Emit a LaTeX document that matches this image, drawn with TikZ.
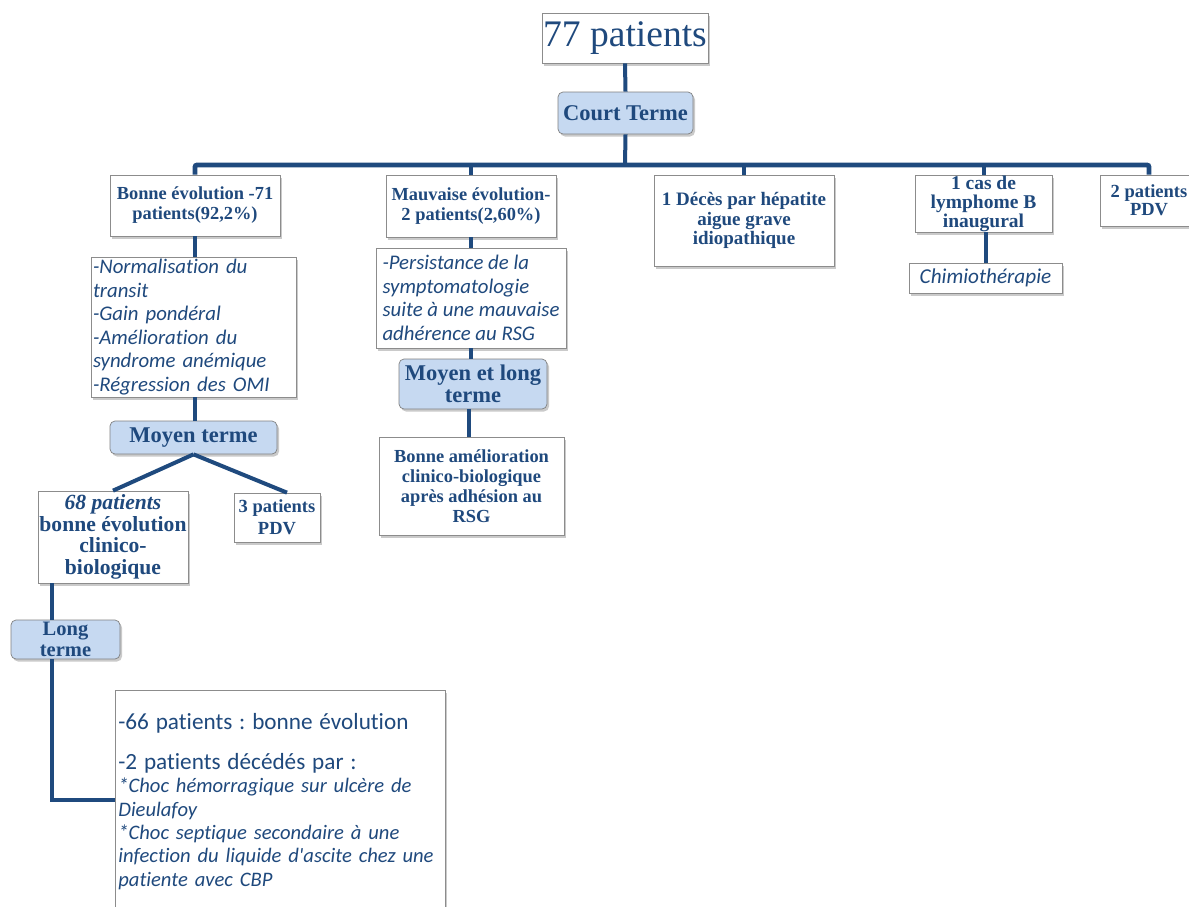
\documentclass[tikz,border=0pt]{standalone}
\usepackage{fontspec}
\setmainfont{Liberation Serif}
\newfontfamily\carl[Ligatures={NoCommon}]{Carlito}
\usetikzlibrary{shadows}
\definecolor{dblue}{HTML}{1F497D}
\definecolor{lineblue}{HTML}{1F4A7E}
\definecolor{lblue}{HTML}{C6D9F1}
\frenchspacing
\begin{document}
\begin{tikzpicture}[x=1pt,y=-1pt,
  box/.style={draw=black!45, fill=white, line width=0.7pt,
    drop shadow={shadow xshift=2pt,shadow yshift=-2.5pt,opacity=0.35,fill=black!60},
    text=dblue, inner sep=1pt, align=center,
    font=\bfseries\fontsize{18.4}{20}\selectfont},
  lbl/.style={box, fill=lblue, rounded corners=5pt, draw=black!50,
    font=\bfseries\fontsize{22.5}{22}\selectfont},
  itbox/.style={box, align=left, font=\carl\itshape\fontsize{20.8}{23.5}\selectfont},
  conn/.style={draw=lineblue, line width=4pt},
  bar/.style={draw=lineblue, line width=4.8pt, rounded corners=2pt},
]
\useasboundingbox (0,0) rectangle (1189,906);

% top
\node[box, minimum width=166, minimum height=50, inner sep=0pt,
  font=\fontsize{37.5}{38}\selectfont] (n77) at (625,38) {77 patients};
\node[lbl, minimum width=135, minimum height=42] (ct) at (625.5,113) {Court Terme};

% first row
\node[box, minimum width=170, minimum height=61] (be) at (195,205.5) {Bonne évolution -71\\patients(92,2\%)};
\node[box, minimum width=170, minimum height=62] (me) at (471,206) {Mauvaise évolution-\\2 patients(2,60\%)};
\node[box, minimum width=180, minimum height=91,
  font=\bfseries\fontsize{19}{19.8}\selectfont] (dc) at (744,220.5) {1 Décès par hépatite\\aigue grave\\idiopathique};
\node[box, minimum width=137, minimum height=57, inner sep=0pt,
  font=\bfseries\fontsize{19.5}{19}\selectfont] (ly) at (983.5,203.5) {1 cas de\\lymphome B\\inaugural};
\node[box, minimum width=98, minimum height=51,
  font=\bfseries\fontsize{18.5}{18}\selectfont] (pd2) at (1149,200.5) {2 patients\\PDV};

% left column
\node[itbox, minimum width=205, minimum height=140, text width=201] (bl) at (193.5,327)
  {-Normalisation du\\transit\\-Gain pondéral\\-Amélioration du\\syndrome anémique\\-Régression des OMI};
\node[lbl, minimum width=167, minimum height=33, inner sep=0pt] (mt) at (193.5,437.5) {Moyen terme};
\node[box, minimum width=150, minimum height=92, inner sep=0pt,
  font=\bfseries\fontsize{21.6}{21.7}\selectfont] (p68) at (113,537)
  {\textit{68 patients}\\bonne évolution\\clinico-\\biologique};
\node[box, minimum width=86, minimum height=49,
  font=\bfseries\fontsize{18.5}{22}\selectfont] (p3) at (277,517.5) {3 patients\\PDV};
\node[lbl, minimum width=109, minimum height=39, inner sep=0pt,
  font=\bfseries\fontsize{20.5}{21}\selectfont] (lt) at (65.5,639.5) {Long\\terme};
\node[box, anchor=north west, minimum width=330, minimum height=222, inner sep=2pt,
  text width=324, align=left, font=\carl\fontsize{20.6}{23.3}\selectfont] (big) at (115,690)
  {{\fontsize{23.2}{23.3}\selectfont -66 patients : bonne évolution}\\[16.7pt]%
   {\fontsize{23.2}{23.3}\selectfont -2 patients décédés par :}\\
   \textit{*Choc hémorragique sur ulcère de}\\
   \textit{Dieulafoy}\\
   \textit{*Choc septique secondaire à une}\\
   \textit{infection du liquide d'ascite chez une}\\
   \textit{patiente avec CBP}};

% middle column
\node[itbox, minimum width=190, minimum height=100] (ps) at (471,298)
  {-Persistance de la\\symptomatologie\\suite à une mauvaise\\adhérence au RSG};
\node[lbl, minimum width=148, minimum height=50, inner sep=0pt] (mlt) at (473,384) {Moyen et long\\terme};
\node[box, minimum width=185, minimum height=98] (ba) at (471.5,486)
  {Bonne amélioration\\clinico-biologique\\après adhésion au\\RSG};

% chimio
\node[itbox, align=center, minimum width=153, minimum height=30, inner sep=0pt,
  font=\carl\itshape\fontsize{21.2}{21}\selectfont] (ch) at (985.5,278) {Chimiothérapie};

% connectors
\coordinate (barc) at (625,165);
\draw[conn] (n77.south) -- (ct.north);
\draw[conn] (ct.south) -- (barc);
\draw[bar] (be.north) -- (be.north |- barc) -- (pd2.north |- barc) -- (pd2.north);
\draw[conn] (me.north) -- (me.north |- barc);
\draw[conn] (dc.north) -- (dc.north |- barc);
\draw[conn] (ly.north) -- (ly.north |- barc);
\draw[conn] (ly.south -| ch.north) -- (ch.north);
\draw[conn] (be.south) -- (be.south |- bl.north);
\draw[conn] (be.south |- bl.south) -- (be.south |- mt.north);
\draw[conn] (mt.south) -- (p68.north);
\draw[conn] (mt.south) -- ([xshift=10pt]p3.north);
\coordinate (lx) at (52,0);
\coordinate (elb) at (52,800);
\draw[conn] (lx |- p68.south) -- (lx |- lt.north);
\draw[conn] (lx |- lt.south) -- (elb) -- (elb -| big.west);
\draw[conn] (me.south) -- (ps.north);
\draw[conn] (ps.south) -- (ps.south |- mlt.north);
\draw[conn] ([xshift=-4pt]mlt.south) -- ([xshift=-4pt]mlt.south |- ba.north);
\end{tikzpicture}
\end{document}
